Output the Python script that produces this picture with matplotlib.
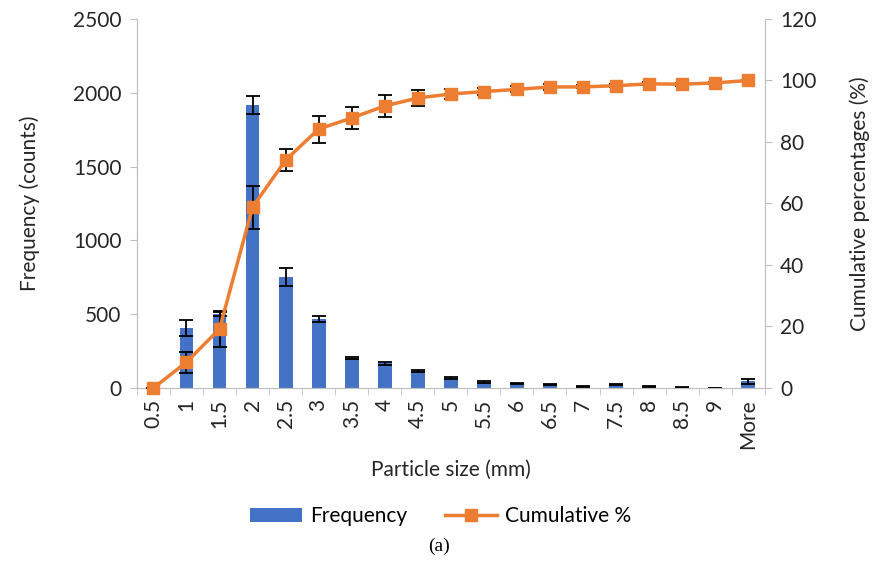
import numpy as np
import matplotlib.pyplot as plt

# values
sizes = ['0.5', '1', '1.5', '2', '2.5', '3', '3.5', '4', '4.5', '5',
         '5.5', '6', '6.5', '7', '7.5', '8', '8.5', '9', 'More']
frequency = [0, 406, 500, 1917, 752, 467, 203, 169, 115, 68,
             40, 31, 22, 13, 22, 13, 5, 2, 45]
freq_err = [0, 57, 15, 60, 61, 23, 5, 10, 10, 8,
            4, 4, 3, 3, 3, 3, 2, 1, 18]
cumulative = [0, 8.4, 19.2, 58.8, 74.1, 84.2, 87.8, 91.7, 94.3, 95.6,
              96.4, 97.1, 97.9, 97.9, 98.3, 98.9, 98.8, 99.2, 100]
cum_err = [0, 3.4, 5.8, 7.0, 3.7, 4.4, 3.7, 3.5, 2.5, 1.5,
           1.0, 1.0, 1.0, 0.5, 0.5, 0.5, 0.5, 0.3, 0.3]

blue = '#4472C4'
orange = '#ED7D31'
grey = '#BFBFBF'
txt = '#262626'
fs = 15

plt.rcParams['font.family'] = ['Lato', 'DejaVu Sans']

fig = plt.figure(figsize=(8.72, 5.66), dpi=100)
ax = fig.add_axes([0.157, 0.3145, 0.72, 0.652])
ax2 = ax.twinx()

x = np.arange(len(sizes))
bars = ax.bar(x, frequency, width=0.42, color=blue, label='Frequency', zorder=2)
ax.errorbar(x, frequency, yerr=freq_err, fmt='none', ecolor='black',
            elinewidth=1.3, capsize=5, capthick=1.3, zorder=3)

line, = ax2.plot(x, cumulative, color=orange, lw=2.5, marker='s', ms=9,
                 label='Cumulative %', clip_on=False, zorder=4)
ax2.errorbar(x, cumulative, yerr=cum_err, fmt='none', ecolor='black',
             elinewidth=1.3, capsize=5, capthick=1.3, zorder=3)

ax.set_xlim(-0.5, len(sizes) - 0.5)
ax.set_ylim(0, 2500)
ax2.set_ylim(0, 120)
ax.set_yticks(range(0, 2501, 500))
ax2.set_yticks(range(0, 121, 20))

ax.set_xticks(x)
ax.set_xticklabels(sizes, rotation=90)
ax.set_xticks(np.arange(-0.5, len(sizes)), minor=True)
ax.tick_params(axis='x', which='major', length=0, pad=8, labelsize=fs, labelcolor=txt)
ax.tick_params(axis='x', which='minor', length=5, color=grey)
ax.tick_params(axis='y', length=5, color=grey, labelsize=fs, labelcolor=txt, pad=6)
ax2.tick_params(axis='y', length=5, color=grey, labelsize=fs, labelcolor=txt, pad=6)

for a in (ax, ax2):
    a.spines['top'].set_visible(False)
    for s in ('left', 'right', 'bottom'):
        a.spines[s].set_color(grey)
ax.set_zorder(ax2.get_zorder() - 1)
ax2.patch.set_visible(False)
ax.patch.set_visible(False)

ax.set_xlabel('Particle size (mm)', fontsize=fs, color=txt, labelpad=8)
ax.set_ylabel('Frequency (counts)', fontsize=fs, color=txt, labelpad=24)
ax2.set_ylabel('Cumulative percentages (%)', fontsize=fs, color=txt, labelpad=24)

fig.legend([bars, line], ['Frequency', 'Cumulative %'], loc='center',
           bbox_to_anchor=(0.505, 0.088), ncol=2, frameon=False, fontsize=fs,
           handlelength=2.5, handletextpad=0.4, columnspacing=1.8)
fig.text(0.503, 0.034, '(a)', ha='center', va='center', fontsize=14,
         family='Liberation Serif')

fig.savefig('out.png', dpi=100)
